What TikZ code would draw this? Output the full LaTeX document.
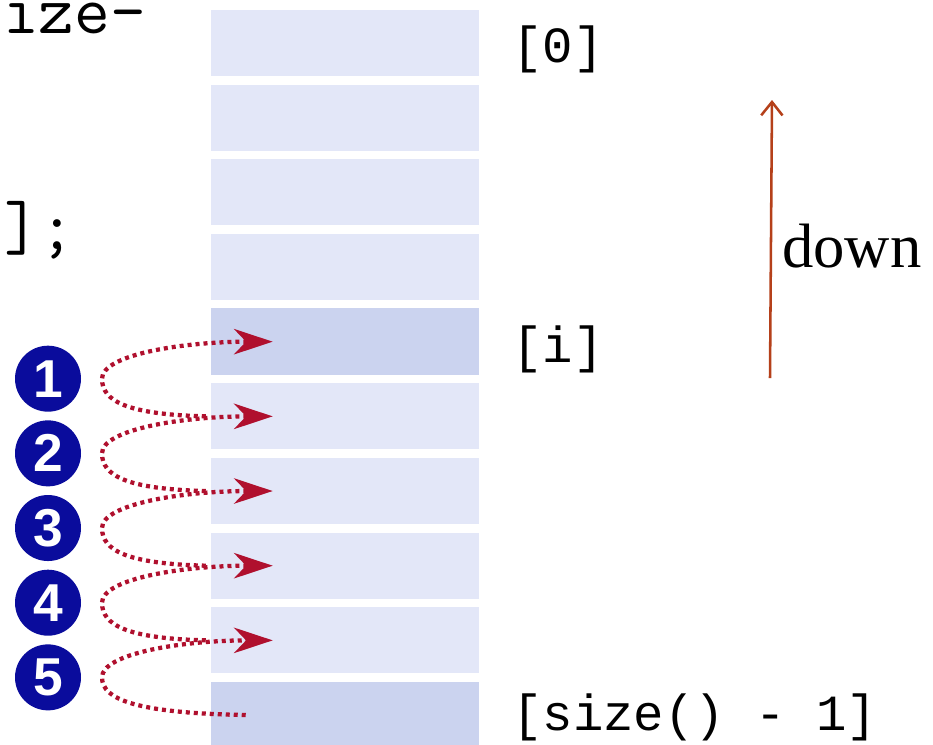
\documentclass[tikz,border=0pt]{standalone}
\usepackage{fontspec}
\setmainfont{Liberation Serif}
\newfontfamily\monoA{Liberation Mono}
\newfontfamily\numfont{Liberation Sans}
\usetikzlibrary{arrows.meta,calc}
\definecolor{celllight}{HTML}{E3E7F8}
\definecolor{celldark}{HTML}{CBD3EF}
\definecolor{navy}{HTML}{0A0C9C}
\definecolor{dotred}{HTML}{B0102E}
\definecolor{rust}{HTML}{B5401A}
\tikzset{
  cellbox/.style={draw=none, fill=celllight, minimum width=201pt, minimum height=49.5pt, inner sep=0pt},
  numball/.style={circle, fill=navy, minimum size=49.5pt, inner sep=0pt, text=white, font=\numfont\bfseries\fontsize{40}{40}\selectfont},
  idxlabel/.style={anchor=base west, inner sep=0pt, font=\monoA\fontsize{38}{38}\selectfont},
  codetext/.style={anchor=base west, inner sep=0pt, font=\ttfamily\fontsize{52}{52}\selectfont},
  dotarrow/.style={draw=dotred, line width=3.2pt, dash pattern=on 3pt off 3pt, -{Stealth[length=29pt, width=19pt, inset=9pt, fill=dotred]}}
}
\begin{document}
\begin{tikzpicture}[x=0.75pt, y=-0.75pt]
\useasboundingbox (0,0) rectangle (933,744);
\clip (0,0) rectangle (933,744);
\fill[white] (0,0) rectangle (933,744);
% cells
\foreach \n in {0,...,9} {
  \node[cellbox] (r\n) at (345, {43+74.67*\n}) {};
}
\fill[celldark] (r4.south west) rectangle (r4.north east);
\fill[celldark] (r9.south west) rectangle (r9.north east);
% clipped code text
\node[codetext] (codeA) at (3,33) {ize-};
\node[codetext] (codeB) at (4,249) {];};
% index labels
\node[idxlabel] (l0) at (512,62) {[0]};
\node[idxlabel] (li) at (512,362) {[i]};
\node[idxlabel] (ls) at (512,730) {[size() - 1]};
% down arrow
\coordinate (dstart) at (770,378);
\coordinate (dend) at (772,100);
\draw[rust, line width=1.9pt, -{Straight Barb[length=10pt, width=16pt, line width=1.9pt]}] (dstart) -- (dend);
\node[anchor=base west, inner sep=0pt, font=\fontsize{47}{47}\selectfont] (down) at (782,267) {down};
% numbered balls
\foreach \k in {1,...,5} {
  \node[numball] (c\k) at (48, {43+74.67*(3+\k)+37}) {\k};
}
% dotted arcs
\foreach \k [evaluate=\k as \h using int(3+\k), evaluate=\k as \t using int(4+\k)] in {1,...,4} {
  \coordinate (t\k) at ($(r\t.west)+(-5,0)$);
  \coordinate (h\k) at ($(r\h.west)+(62,0)$);
  \coordinate (m\k) at ($(c\k.center)+(54,0)$);
  \draw[dotarrow] (t\k) .. controls +(-80,-2) and +(0,22) .. (m\k) .. controls +(0,-24) and +(-90,0) .. (h\k);
}
\coordinate (t5) at ($(r9.west)+(35,0)$);
\coordinate (h5) at ($(r8.west)+(62,0)$);
\coordinate (m5) at ($(c5.center)+(54,0)$);
\draw[dotarrow] (t5) .. controls +(-110,-2) and +(0,22) .. (m5) .. controls +(0,-24) and +(-90,0) .. (h5);
\end{tikzpicture}
\end{document}
